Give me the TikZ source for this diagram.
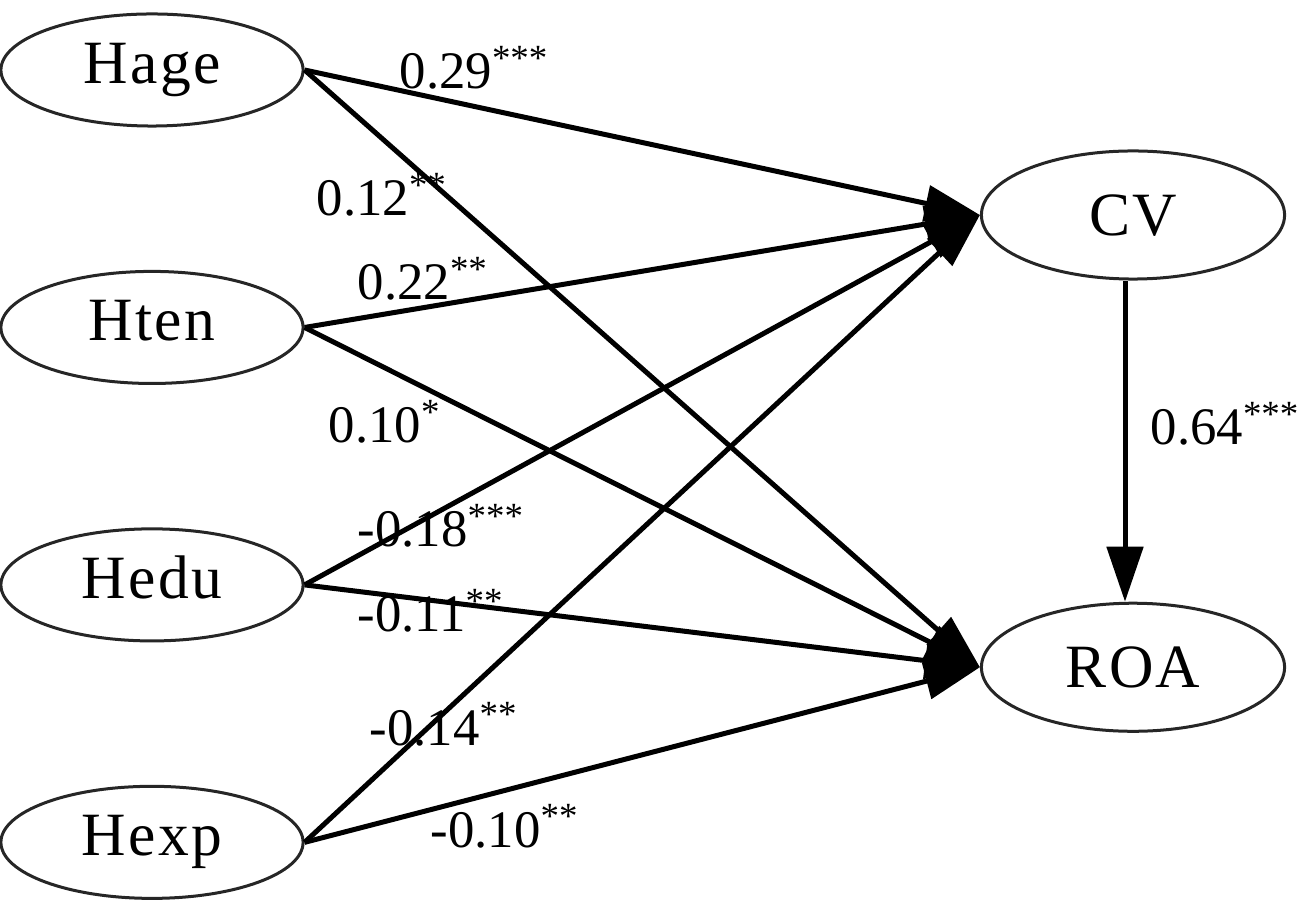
\documentclass[tikz,border=0pt]{standalone}
\usepackage{fontspec}
\setmainfont{Liberation Serif}
\usetikzlibrary{shapes.geometric,arrows.meta}

\begin{document}
\begin{tikzpicture}[x=0.01cm, y=-0.01cm, node distance=2.573cm,
    latent/.style={draw=black!85, ellipse, line width=0.03cm, minimum width=3.02cm, minimum height=1.12cm, text height=11.5pt, text depth=3.9pt, font=\fontsize{17.5}{21}\selectfont\addfontfeature{LetterSpace=4}},
    outcome/.style={latent, minimum width=3.03cm, minimum height=1.28cm, text depth=0pt},
    path/.style={line width=0.05cm, -{Triangle[length=0.55cm, width=0.36cm]}},
    coef/.style={anchor=base west, inner sep=0pt, font=\fontsize{15}{18}\selectfont}]
  \useasboundingbox (0,0) rectangle (1300,907);

  % variables
  \node (Hage) [latent] at (152,70) {Hage};
  \node (Hten) [latent, below of=Hage] {Hten};
  \node (Hedu) [latent, below of=Hten] {Hedu};
  \node (Hexp) [latent, below of=Hedu] {Hexp};
  \node (CV) [outcome] at (1133,215) {CV};
  \node (ROA) [outcome, below of=CV, node distance=4.52cm] {ROA};

  % paths
  \draw[path] (Hage.east) -- (CV.west);
  \draw[path] (Hage.east) -- (ROA.west);
  \draw[path] (Hten.east) -- (CV.west);
  \draw[path] (Hten.east) -- (ROA.west);
  \draw[path] (Hedu.east) -- (CV.west);
  \draw[path] (Hedu.east) -- (ROA.west);
  \draw[path] (Hexp.east) -- (CV.west);
  \draw[path] (Hexp.east) -- (ROA.west);
  \draw[path] ([xshift=-0.08cm]CV.south) -- ([xshift=-0.08cm]ROA.north);

  % coefficients
  \node (cHageCV) [coef] at (399,89) {0.29\textsuperscript{***}};
  \node (cHageROA) [coef] at (316,216) {0.12\textsuperscript{**}};
  \node (cHtenCV) [coef] at (357,300) {0.22\textsuperscript{**}};
  \node (cHtenROA) [coef] at (328,443) {0.10\textsuperscript{*}};
  \node (cHeduCV) [coef] at (357,547) {-0.18\textsuperscript{***}};
  \node (cHeduROA) [coef] at (357,632) {-0.11\textsuperscript{**}};
  \node (cHexpCV) [coef] at (369,745) {-0.14\textsuperscript{**}};
  \node (cHexpROA) [coef] at (430,847) {-0.10\textsuperscript{**}};
  \node (cCVROA) [coef] at (1150,445) {0.64\textsuperscript{***}};
\end{tikzpicture}
\end{document}
